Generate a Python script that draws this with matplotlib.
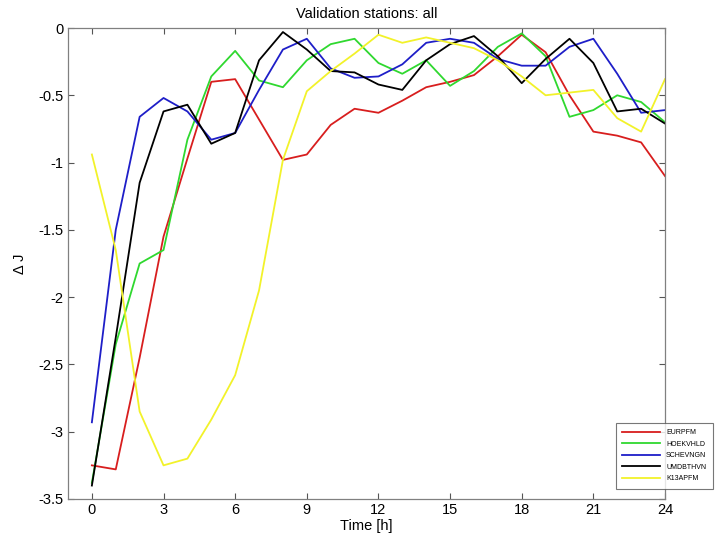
import numpy as np
import matplotlib
matplotlib.use('Agg')
import matplotlib.pyplot as plt

plt.rcParams['font.family'] = ['Liberation Sans', 'DejaVu Sans']

hours = list(range(25))

eurpfm = [-3.25, -3.28, -2.45, -1.55, -0.97, -0.40, -0.38, -0.68, -0.98, -0.94,
          -0.72, -0.60, -0.63, -0.54, -0.44, -0.40, -0.35, -0.21, -0.05, -0.18,
          -0.50, -0.77, -0.80, -0.85, -1.10]
hoekvhld = [-3.38, -2.35, -1.75, -1.65, -0.83, -0.36, -0.17, -0.39, -0.44, -0.24,
            -0.12, -0.08, -0.26, -0.34, -0.24, -0.43, -0.32, -0.14, -0.04, -0.21,
            -0.66, -0.61, -0.50, -0.55, -0.70]
schevngn = [-2.93, -1.50, -0.66, -0.52, -0.62, -0.83, -0.78, -0.46, -0.16, -0.08,
            -0.30, -0.37, -0.36, -0.27, -0.11, -0.08, -0.11, -0.23, -0.28, -0.28,
            -0.14, -0.08, -0.34, -0.63, -0.61]
umdbthvn = [-3.40, -2.30, -1.15, -0.62, -0.57, -0.86, -0.78, -0.24, -0.03, -0.16,
            -0.32, -0.33, -0.42, -0.46, -0.24, -0.12, -0.06, -0.21, -0.41, -0.23,
            -0.08, -0.26, -0.62, -0.60, -0.71]
k13apfm = [-0.94, -1.65, -2.85, -3.25, -3.20, -2.91, -2.58, -1.95, -0.98, -0.47,
           -0.32, -0.19, -0.05, -0.11, -0.07, -0.11, -0.15, -0.24, -0.36, -0.50,
           -0.48, -0.46, -0.67, -0.77, -0.38]

names = ['EURPFM', 'HOEKVHLD', 'SCHEVNGN', 'UMDBTHVN', 'K13APFM']
series = [eurpfm, hoekvhld, schevngn, umdbthvn, k13apfm]
colors = ['#d81e1e', '#2fd82f', '#1e1ec8', '#000000', '#f2f22a']

fig = plt.figure(figsize=(7.21, 5.38), dpi=100)
ax = fig.add_axes([68 / 721, 1 - 499 / 538, (665 - 68) / 721, (499 - 28) / 538])

for name, vals, c in zip(names, series, colors):
    ax.plot(hours, vals, color=c, lw=1.3, label=name)

ax.set_xlim(-1, 24)
ax.set_ylim(-3.5, 0)
ax.set_xticks(range(0, 25, 3))
ax.set_yticks(np.arange(-3.5, 0.01, 0.5))
ax.set_yticklabels(['-3.5', '-3', '-2.5', '-2', '-1.5', '-1', '-0.5', '0'])
ax.tick_params(direction='in', top=True, right=True, length=4, labelsize=10.5,
               color='#555555', width=0.8, pad=3)
for s in ax.spines.values():
    s.set_color('#808080')
    s.set_linewidth(0.9)

ax.set_title('Validation stations: all', fontsize=10.5, pad=7)
ax.set_xlabel('Time [h]', fontsize=10.5, labelpad=1)
ax.set_ylabel('\u0394 J', fontsize=10.5, labelpad=8)

leg = ax.legend(loc='lower right', bbox_to_anchor=(716 / 721, 46 / 538),
                bbox_transform=fig.transFigure, fontsize=5, frameon=True,
                fancybox=False, edgecolor='#555555', handlelength=5.5,
                borderpad=0.9, labelspacing=0.65, handletextpad=0.8)
leg.get_frame().set_linewidth(0.8)

fig.savefig('out.png', dpi=100)
